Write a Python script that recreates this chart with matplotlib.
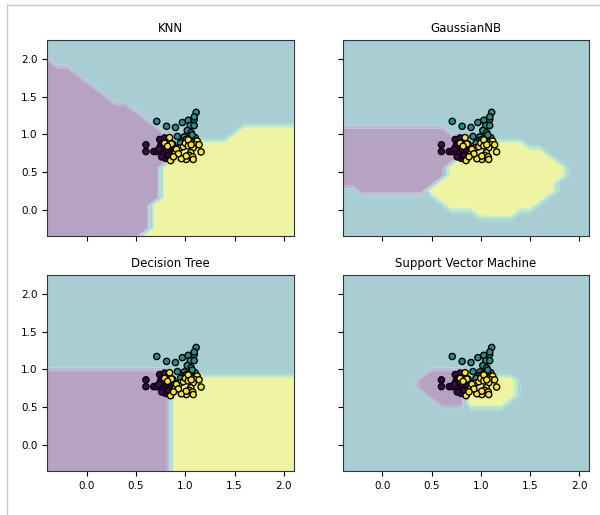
import numpy as np
import matplotlib
matplotlib.use('Agg')
import matplotlib.pyplot as plt
from matplotlib.path import Path
from matplotlib.lines import Line2D
from matplotlib.colors import ListedColormap

# scatter points per class (0 purple, 1 teal, 2 yellow)
x0 = [0.60, 0.60, 0.68, 0.71, 0.74, 0.75, 0.77, 0.78, 0.79, 0.77, 0.80, 0.81,
      0.83, 0.84, 0.86, 0.88, 0.89, 0.82, 0.85, 0.79, 0.76, 0.73, 0.87, 0.90]
y0 = [0.86, 0.77, 0.77, 0.77, 0.93, 0.85, 0.88, 0.82, 0.73, 0.74, 0.68, 0.80,
      0.72, 0.84, 0.78, 0.73, 0.82, 0.91, 0.66, 0.95, 0.70, 0.80, 0.87, 0.77]
x1 = [0.71, 0.81, 0.90, 0.97, 1.03, 1.09, 1.11, 1.09, 1.05, 1.09, 1.02, 1.06,
      0.92, 0.99, 1.10, 1.04, 0.98, 1.06, 1.07, 1.01, 0.95]
y1 = [1.17, 1.105, 1.09, 1.155, 1.185, 1.195, 1.29, 1.23, 1.115, 1.115, 1.05, 1.02,
      0.97, 0.965, 0.955, 0.94, 0.91, 0.97, 0.99, 0.93, 0.88]
x2 = [0.79, 0.84, 0.86, 0.90, 0.85, 0.95, 0.98, 1.00, 1.03, 1.03, 1.12, 1.10,
      1.14, 1.08, 1.16, 1.055, 1.04, 1.075, 1.08, 1.01, 0.96, 1.01, 1.06, 0.91,
      0.93, 0.82, 0.88]
y2 = [0.88, 0.955, 0.87, 0.765, 0.65, 0.82, 0.835, 0.88, 0.925, 0.845, 0.91, 0.86,
      0.86, 0.82, 0.765, 0.755, 0.72, 0.70, 0.665, 0.665, 0.675, 0.71, 0.86, 0.80,
      0.74, 0.84, 0.70]

titles = ['KNN', 'GaussianNB', 'Decision Tree', 'Support Vector Machine']

# decision regions as polygons, anything outside is class 1
knn_purple = [[(-1, 2.02), (-0.3, 1.95), (-0.2, 1.9), (0.3, 1.4), (0.4, 1.37),
               (0.72, 1.06), (0.86, 0.92), (0.9, 0.78), (0.78, 0.6), (0.72, 0.45),
               (0.72, 0.15), (0.6, -0.3), (0.55, -1), (-1, -1)]]
knn_yellow = [[(0.9, 0.95), (1.1, 0.93), (1.42, 0.95), (1.5, 1.04), (1.76, 1.09),
               (1.8, 1.14), (3, 1.15), (3, -1), (0.55, -1), (0.6, -0.3),
               (0.72, 0.15), (0.72, 0.45), (0.78, 0.6), (0.9, 0.78)]]
gnb_purple = [[(-1, 1.1), (0.62, 1.1), (0.78, 0.96), (0.86, 0.85), (0.79, 0.69),
               (0.42, 0.2), (-0.25, 0.2), (-0.31, 0.3), (-1, 0.3)]]
gnb_yellow = [[(0.86, 0.85), (0.99, 0.89), (1.13, 0.93), (1.40, 0.91), (1.5, 0.845),
               (1.6, 0.845), (1.74, 0.71), (1.77, 0.62), (1.89, 0.46), (1.77, 0.38),
               (1.76, 0.27), (1.5, 0.0), (1.13, -0.13), (1.01, -0.08), (0.69, 0.05),
               (0.52, 0.16), (0.42, 0.2), (0.79, 0.69)]]
tree_purple = [[(-1, -1), (0.85, -1), (0.85, 1.0), (-1, 1.0)]]
tree_yellow = [[(0.85, -1), (3, -1), (3, 0.9), (0.85, 0.9)]]
svm_purple = [[(0.33, 0.85), (0.47, 1.0), (0.83, 1.0), (0.9, 0.88), (0.85, 0.62),
               (0.82, 0.52), (0.57, 0.52), (0.38, 0.72)]]
svm_yellow = [[(0.9, 0.9), (1.3, 0.92), (1.39, 0.83), (1.37, 0.7), (1.27, 0.6),
               (1.12, 0.47), (0.92, 0.47), (0.88, 0.58)]]
regions = [(knn_purple, knn_yellow), (gnb_purple, gnb_yellow),
           (tree_purple, tree_yellow), (svm_purple, svm_yellow)]

X = np.c_[x0 + x1 + x2, y0 + y1 + y2]
y = np.array([0] * len(x0) + [1] * len(x1) + [2] * len(x2))

x_min, x_max = X[:, 0].min() - 1, X[:, 0].max() + 1
y_min, y_max = X[:, 1].min() - 1, X[:, 1].max() + 1
xx, yy = np.meshgrid(np.arange(x_min, x_max, 0.1),
                     np.arange(y_min, y_max, 0.1))
grid = np.c_[xx.ravel(), yy.ravel()]


def predict(purple, yellow):
    Z = np.ones(len(grid))
    for poly in purple:
        Z[Path(poly).contains_points(grid)] = 0
    for poly in yellow:
        Z[Path(poly).contains_points(grid)] = 2
    return Z.reshape(xx.shape)


# viridis at 40% over white, drawn opaque so band edges don't darken
vir = plt.get_cmap('viridis')(np.linspace(0, 1, 256))
vir[:, :3] = 0.4 * vir[:, :3] + 0.6
light = ListedColormap(vir)

plt.rcParams['xtick.labelsize'] = 7.5
plt.rcParams['ytick.labelsize'] = 7.5
plt.rcParams['axes.edgecolor'] = '#333333'
f, axarr = plt.subplots(2, 2, sharex='col', sharey='row', figsize=(6, 5.15), dpi=100)
f.subplots_adjust(left=0.079, right=0.982, bottom=0.0854, top=0.9223,
                  wspace=0.2, hspace=0.2)

for ax, (purple, yellow), tt in zip(axarr.flat, regions, titles):
    Z = predict(purple, yellow)
    ax.contourf(xx, yy, Z, cmap=light, antialiased=True)
    ax.scatter(X[:, 0], X[:, 1], c=y, s=20, edgecolor='k')
    ax.set_title(tt, fontsize=8.5)

# notebook cell border
f.add_artist(Line2D([6.5 / 600, 6.5 / 600], [0, 1 - 5 / 515],
                    transform=f.transFigure, color='#c8c8c8', lw=1))
f.add_artist(Line2D([6.5 / 600, 1], [1 - 5 / 515, 1 - 5 / 515],
                    transform=f.transFigure, color='#c8c8c8', lw=1))

plt.savefig('out.png')
